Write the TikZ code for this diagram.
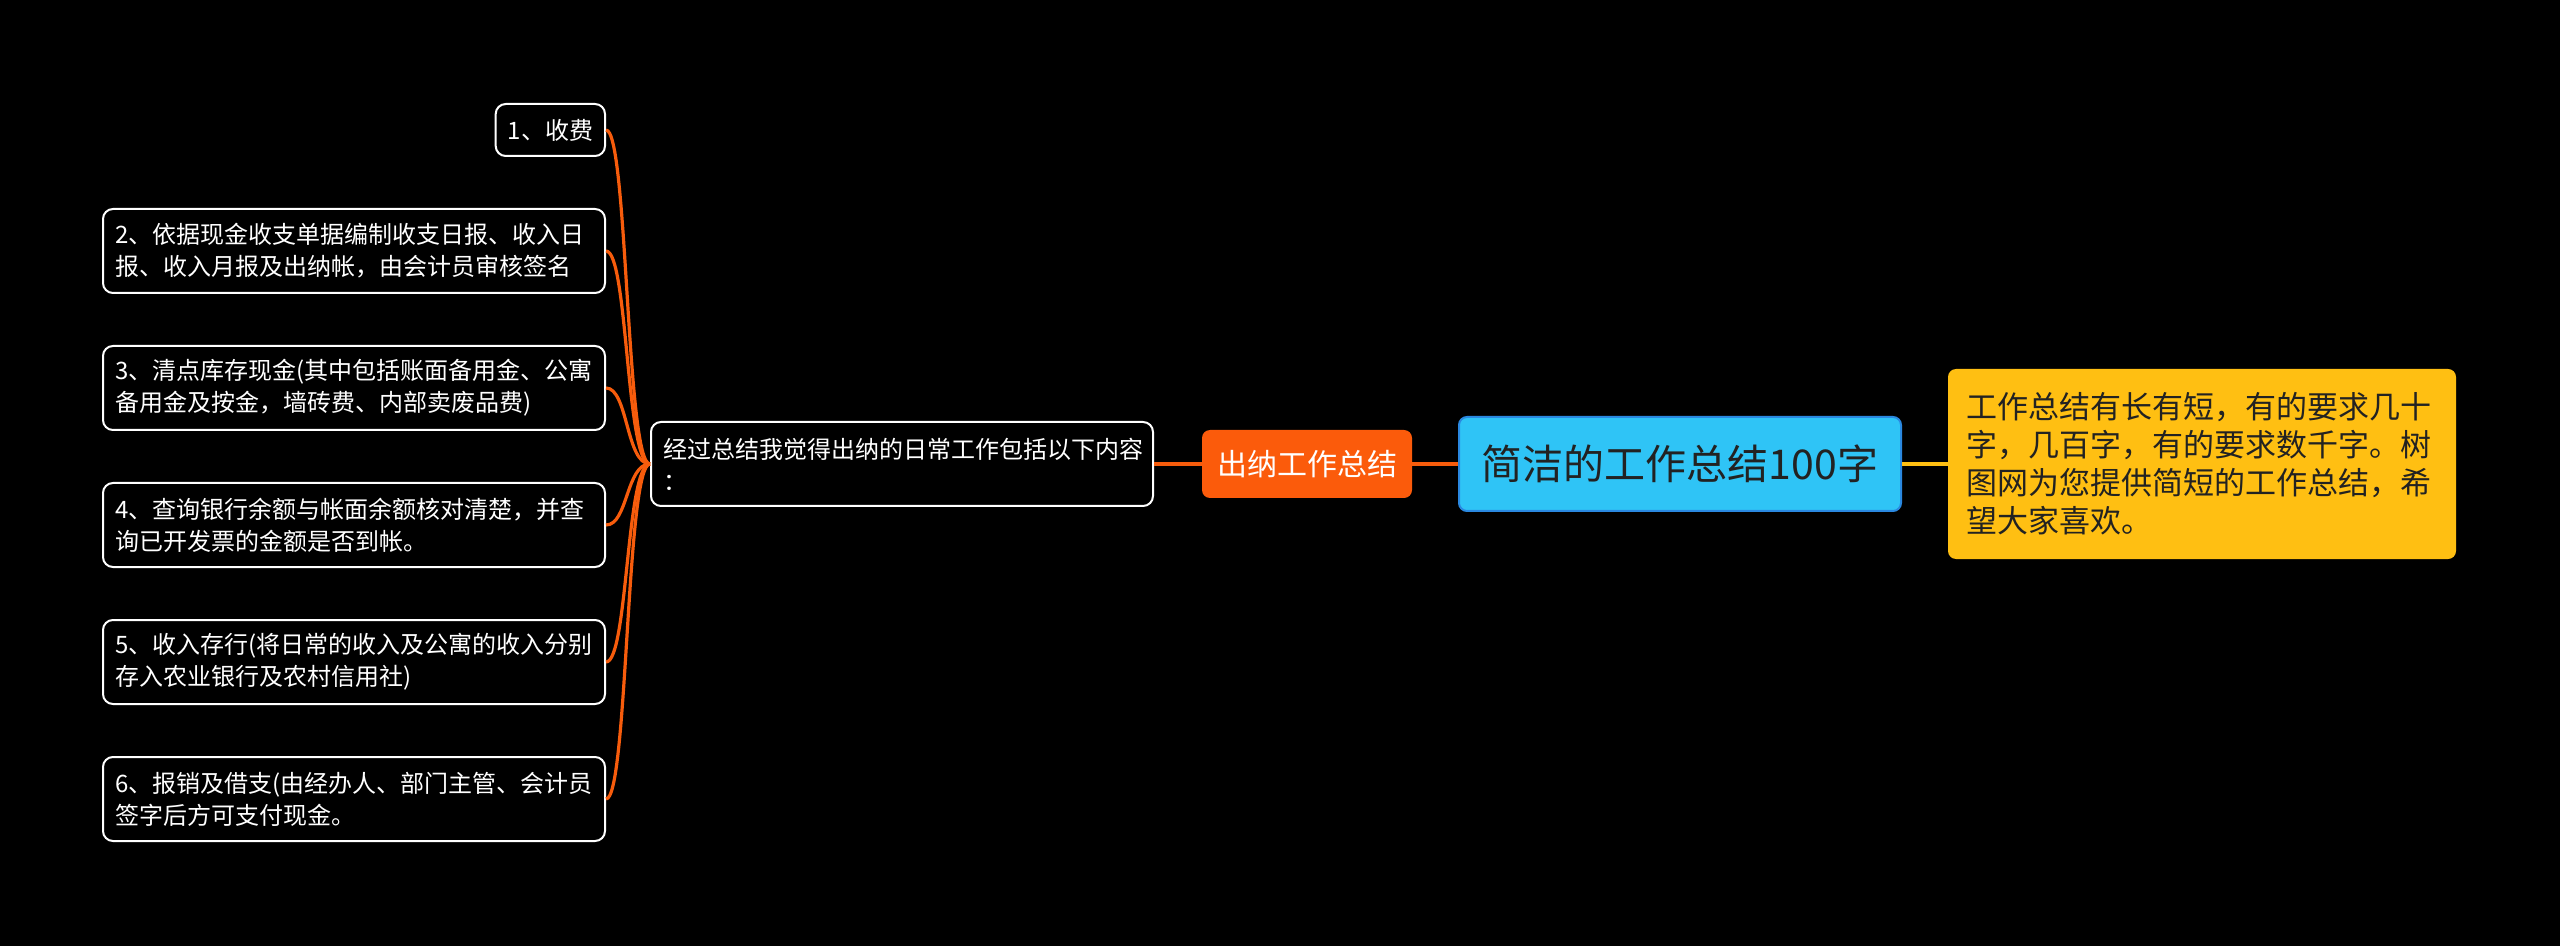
\documentclass[tikz,border=0pt]{standalone}
\usepackage{fontspec}
\setmainfont{Noto Sans CJK SC}
\usepackage{tikz}
\usetikzlibrary{positioning,calc}
\usepackage{xcolor}
\definecolor{bgblack}{HTML}{000000}
\definecolor{lineorange}{HTML}{F75C0C}
\definecolor{nodeorange}{HTML}{FB5B0B}
\definecolor{rootblue}{HTML}{2FC4F6}
\definecolor{rootborder}{HTML}{2A88E0}
\definecolor{noteyellow}{HTML}{FFBF12}
\definecolor{darktext}{HTML}{222222}

\begin{document}
\begin{tikzpicture}[x=0.5pt,y=-0.5pt,
  leaf/.style={draw=white,line width=1pt,rounded corners=5pt,fill=black,
    text=white,align=left,inner xsep=6pt,inner ysep=3pt,anchor=east,
    font=\fontsize{12}{16}\selectfont},
  longleaf/.style={leaf,text width=239pt,minimum height=42pt},
  branch/.style={draw=lineorange,line width=1.6pt},
  mainline/.style={draw=lineorange,line width=2pt},
  noteline/.style={draw=noteyellow,line width=2pt}]
  \fill[bgblack] (0,0) rectangle (2560,946);
  \useasboundingbox (0,0) rectangle (2560,946);

  % centre and right side
  \node[draw=rootborder,line width=1pt,fill=rootblue,rounded corners=4pt,
    text=darktext,minimum width=221pt,minimum height=47pt,
    font=\fontsize{20.5}{24}\selectfont] (root) at (1680,464) {简洁的工作总结100字};
  \node[fill=noteyellow,rounded corners=4pt,text=darktext,align=left,
    text width=236pt,inner xsep=9pt,minimum height=95pt,
    font=\fontsize{15.5}{19}\selectfont] (note) at (2202,464)
    {工作总结有长有短，有的要求几十\\字，几百字，有的要求数千字。树\\图网为您提供简短的工作总结，希\\望大家喜欢。};
  \node[fill=nodeorange,rounded corners=4pt,text=white,minimum width=105pt,
    minimum height=34pt,font=\fontsize{15}{18}\selectfont] (cashier) at (1307,464) {出纳工作总结};
  \node[draw=white,line width=1pt,rounded corners=5pt,fill=black,text=white,
    align=left,text width=239pt,inner xsep=6pt,minimum height=42pt,
    font=\fontsize{12}{16}\selectfont] (intro) at (902,464)
    {经过总结我觉得出纳的日常工作包括以下内容\\：};

  % leaves
  \node[leaf,minimum height=26pt] (l1) at (606,130) {1、收费};
  \node[longleaf] (l2) at (606,251) {2、依据现金收支单据编制收支日报、收入日\\报、收入月报及出纳帐，由会计员审核签名};
  \node[longleaf] (l3) at (606,388) {3、清点库存现金(其中包括账面备用金、公寓\\备用金及按金，墙砖费、内部卖废品费)};
  \node[longleaf] (l4) at (606,525) {4、查询银行余额与帐面余额核对清楚，并查\\询已开发票的金额是否到帐。};
  \node[longleaf] (l5) at (606,662) {5、收入存行(将日常的收入及公寓的收入分别\\存入农业银行及农村信用社)};
  \node[longleaf] (l6) at (606,799) {6、报销及借支(由经办人、部门主管、会计员\\签字后方可支付现金。};

  % connectors
  \draw[noteline] (root.east) -- (note.west);
  \draw[mainline] (root.west) -- (cashier.east);
  \draw[mainline] (cashier.west) -- (intro.east);
  \foreach \n in {l1,l2,l3,l4,l5,l6}
    \draw[branch] (intro.west) .. controls +(-24,0) and +(22,0) .. (\n.east);
\end{tikzpicture}
\end{document}
